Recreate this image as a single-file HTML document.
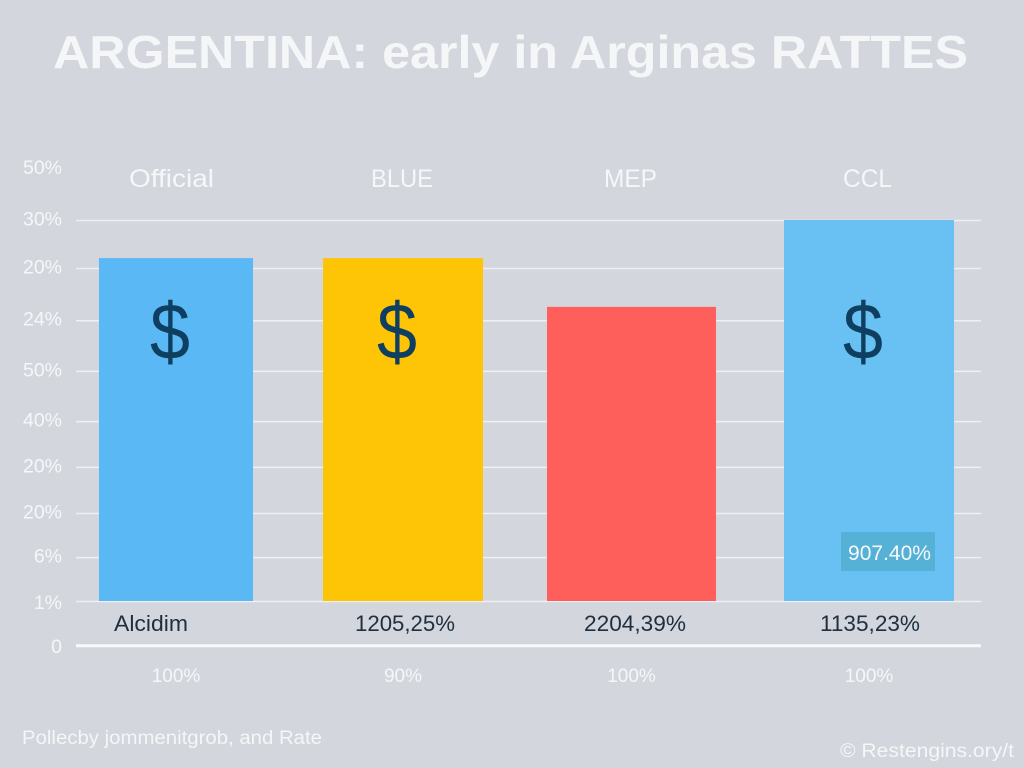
<!DOCTYPE html>
<html lang="en">
<head>
<meta charset="utf-8">
<title>Argentina exchange rates chart</title>
<style>
html,body{margin:0;padding:0;width:1024px;height:768px;overflow:hidden;background:#d3d6dc}
svg{display:block}
text{font-family:"Liberation Sans",sans-serif}
</style>
</head>
<body>
<svg id="chart" xmlns="http://www.w3.org/2000/svg" width="1024" height="768" viewBox="0 0 1024 768">
  <rect x="0" y="0" width="1024" height="768" fill="#d3d6dc"/>
  <text x="53" y="68" font-size="46" font-weight="700" fill="#f5f6f8" textLength="915" lengthAdjust="spacingAndGlyphs">ARGENTINA: early in Arginas RATTES</text>
  <g id="grid"></g>
  <g id="yaxis"></g>
  <g id="bars"></g>
  <g id="headers"></g>
  <g id="values"></g>
  <g id="shares"></g>
  <text x="22" y="744" font-size="19" fill="#f5f6f8" textLength="300" lengthAdjust="spacingAndGlyphs">Pollecby jommenitgrob, and Rate</text>
  <text x="840" y="757" font-size="19" fill="#f5f6f8" textLength="174" lengthAdjust="spacingAndGlyphs">© Restengins.ory/t</text>
</svg>
<script>
const categories = ["Official", "BLUE", "MEP", "CCL"];
const seriesValues = [90, 90, 77.2, 100];
const valueLabels = ["Alcidim", "1205,25%", "2204,39%", "1135,23%"];
const shareLabels = ["100%", "90%", "100%", "100%"];
const hasDollarIcon = [true, true, false, true];
const barColors = ["#5ab8f5", "#fec507", "#fe5f5b", "#68c0f3"];
const tickLabels = ["50%", "30%", "20%", "24%", "50%", "40%", "20%", "20%", "6%", "1%", "0"];
const tickValues = [113.5, 100, 87.4, 73.7, 60.4, 47.2, 35.2, 23.1, 11.5, 0, -11.6];
const calloutLabel = "907.40%";

const NS = "http://www.w3.org/2000/svg";
const AXIS_BASE = 601;
const AXIS_UNIT = 3.81;

function yScale(v) {
  return AXIS_BASE - v * AXIS_UNIT;
}
function xBand(i) {
  const lefts = [99, 323, 547, 784];
  const widths = [154, 160, 169, 170];
  return { left: lefts[i], width: widths[i] };
}
function headerBox(i) {
  const centers = [171.5, 402, 630.5, 867.5];
  const lengths = [85, 62, 53, 49];
  return { center: centers[i], length: lengths[i] };
}
function valueBox(i) {
  const centers = [151, 405, 635, 870];
  const lengths = [74, 100, 102, 100];
  return { center: centers[i], length: lengths[i] };
}
function make(tag, parent, attrs, content) {
  const el = document.createElementNS(NS, tag);
  for (const k in attrs) el.setAttribute(k, attrs[k]);
  if (content !== undefined) el.textContent = content;
  document.getElementById(parent).appendChild(el);
  return el;
}

tickValues.forEach(function (v, i) {
  const y = yScale(v);
  const labelShift = i >= 9 ? 8 : 5.5;
  const label = make("text", "yaxis", { x: 62, y: y + labelShift, "font-size": 19.5, "text-anchor": "end", fill: "#f6f7f9" }, tickLabels[i]);
  
  
  if (i === 0) return;
  const isAxis = i === tickValues.length - 1;
  const line = make("line", "grid", { x1: 76, x2: 981, y1: y + 0.5, y2: y + 0.5, stroke: isAxis ? "#f8f9fa" : "#eef0f3", "stroke-width": isAxis ? 3 : 1.5 });
  
  
});

categories.forEach(function (name, i) {
  const band = xBand(i);
  const top = yScale(seriesValues[i]);
  const center = band.left + band.width / 2;

  const bar = make("rect", "bars", { x: band.left, y: top, width: band.width, height: AXIS_BASE - top, fill: barColors[i] });
  
  

  if (hasDollarIcon[i]) {
    const icon = make("text", "bars", { x: center - 6, y: 359, "font-size": 80, "text-anchor": "middle", fill: "#0f3f60", textLength: 40, lengthAdjust: "spacingAndGlyphs" }, "$");
    
    
  }

  const hb = headerBox(i);
  const header = make("text", "headers", { x: hb.center, y: 187, "font-size": 25, "text-anchor": "middle", fill: "#f6f7f9", textLength: hb.length, lengthAdjust: "spacingAndGlyphs" }, name);
  
  

  const vb = valueBox(i);
  const value = make("text", "values", { x: vb.center, y: 631, "font-size": 22.5, "text-anchor": "middle", fill: "#1f2f40", textLength: vb.length, lengthAdjust: "spacingAndGlyphs" }, valueLabels[i]);
  
  

  const share = make("text", "shares", { x: center, y: 682, "font-size": 19, "text-anchor": "middle", fill: "#f6f7f9" }, shareLabels[i]);
  
  
});

const calloutBox = make("rect", "bars", { x: 841, y: 532, width: 94, height: 39, fill: "#55b1d5" });


const calloutText = make("text", "bars", { x: 889.5, y: 560, "font-size": 21, "text-anchor": "middle", fill: "#f6fafc" }, calloutLabel);


</script>
</body>
</html>
